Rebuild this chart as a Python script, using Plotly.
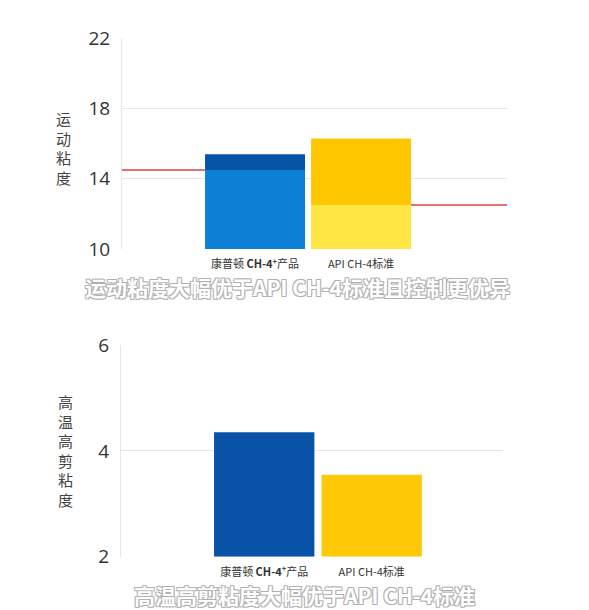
import plotly.graph_objects as go

# ---- data ----
categories = ["康普顿 <b>CH-4<sup>+</sup></b>产品", "API CH-4标准"]

# kinematic viscosity: lower / upper limits of each band
kv_lower = [14.5, 12.5]
kv_upper = [15.4, 16.3]
kv_ticks = [10, 14, 18, 22]

# high temperature high shear viscosity
hths_values = [4.35, 3.55]
hths_ticks = [2, 4, 6]

kv_title = "运动粘度"
hths_title = "高温高剪粘度"
kv_caption = "运动粘度大幅优于API CH-4标准且控制更优异"
hths_caption = "高温高剪粘度大幅优于API CH-4标准"

# ---- style ----
W, H = 589, 610
LIGHT = ["#0B80D4", "#FFE645"]
DARK = ["#0852A8", "#FFC700"]
HTHS_COLORS = ["#0852A8", "#FFC908"]
RED = "#E07272"
GRID = "#E6E6E6"
FONT = "Noto Sans CJK SC, Open Sans, sans-serif"
TICK_FONT = "Open Sans, Noto Sans CJK SC, sans-serif"

BAR_W1, BAR_W2 = 0.943, 0.933
XR1 = [-1.255, 2.377]
XR2 = [-1.332, 2.221]
xs = list(range(len(categories)))

fig = go.Figure()

# top chart: two-tone bars
fig.add_trace(go.Bar(x=xs, y=[v - kv_ticks[0] for v in kv_lower], base=kv_ticks[0],
                     marker=dict(color=LIGHT, line_width=0), width=BAR_W1,
                     xaxis="x", yaxis="y", hoverinfo="skip"))
fig.add_trace(go.Bar(x=xs, y=[u - l for u, l in zip(kv_upper, kv_lower)], base=kv_lower,
                     marker=dict(color=DARK, line_width=0), width=BAR_W1,
                     xaxis="x", yaxis="y", hoverinfo="skip"))
# red reference lines, left of first bar and right of second
fig.add_trace(go.Scatter(x=[XR1[0], xs[0] - BAR_W1 / 2], y=[kv_lower[0]] * 2, mode="lines",
                         line=dict(color=RED, width=2), xaxis="x", yaxis="y", hoverinfo="skip"))
fig.add_trace(go.Scatter(x=[xs[1] + BAR_W1 / 2, XR1[1]], y=[kv_lower[1]] * 2, mode="lines",
                         line=dict(color=RED, width=2), xaxis="x", yaxis="y", hoverinfo="skip"))

# bottom chart
fig.add_trace(go.Bar(x=xs, y=[v - hths_ticks[0] for v in hths_values], base=hths_ticks[0],
                     marker=dict(color=HTHS_COLORS, line_width=0), width=BAR_W2,
                     xaxis="x2", yaxis="y2", hoverinfo="skip"))

xcommon = dict(tickmode="array", tickvals=xs, ticktext=categories, showgrid=False,
               zeroline=False, ticks="outside", ticklen=5, tickcolor="rgba(0,0,0,0)",
               tickfont=dict(family=FONT, size=11, color="#333"), fixedrange=True)
ycommon = dict(showgrid=True, gridcolor=GRID, gridwidth=1, zeroline=False,
               showline=True, linecolor=GRID, linewidth=1,
               ticks="outside", ticklen=7, tickcolor="rgba(0,0,0,0)",
               tickfont=dict(family=TICK_FONT, size=19, color="#333"))

fig.update_layout(
    width=W, height=H, showlegend=False, barmode="overlay",
    paper_bgcolor="white", plot_bgcolor="white",
    margin=dict(l=0, r=0, t=0, b=0, autoexpand=False),
    xaxis=dict(domain=[122 / W, 507 / W], range=XR1, anchor="y", **xcommon),
    yaxis=dict(domain=[1 - 249 / H, 1 - 38.3 / H], range=[kv_ticks[0], kv_ticks[-1]],
               tickvals=kv_ticks, anchor="x", **ycommon),
    xaxis2=dict(domain=[121 / W, 503 / W], range=XR2, anchor="y2", **xcommon),
    yaxis2=dict(domain=[1 - 556.7 / H, 1 - 345 / H], range=[hths_ticks[0], hths_ticks[-1]],
                tickvals=hths_ticks, anchor="x2", **ycommon),
)

# vertical stacked axis titles
for text, cx, cy in [(kv_title, 63, 148.5), (hths_title, 65, 450)]:
    fig.add_annotation(text="<br>".join(text), x=cx / W, y=1 - cy / H,
                       xref="paper", yref="paper", showarrow=False,
                       xanchor="center", yanchor="middle",
                       font=dict(family=FONT, size=15, color="#444"))

outline = "-1px -1px 0 #b0b0b0, 1px -1px 0 #b0b0b0, -1px 1px 0 #b0b0b0, 1px 1px 0 #b0b0b0"
for text, cx, cy in [(kv_caption, 297.5, 287), (hths_caption, 304.5, 595)]:
    fig.add_annotation(text=text, x=cx / W, y=1 - cy / H, xref="paper", yref="paper",
                       showarrow=False, xanchor="center", yanchor="middle",
                       font=dict(family=FONT, size=21, color="white", weight="bold",
                                 shadow=outline))

# the page body has a default 8px margin; drop it so the figure fills the window
fig.write_html("out.html", config={"displayModeBar": False},
               post_script="document.body.style.margin = '0';")
